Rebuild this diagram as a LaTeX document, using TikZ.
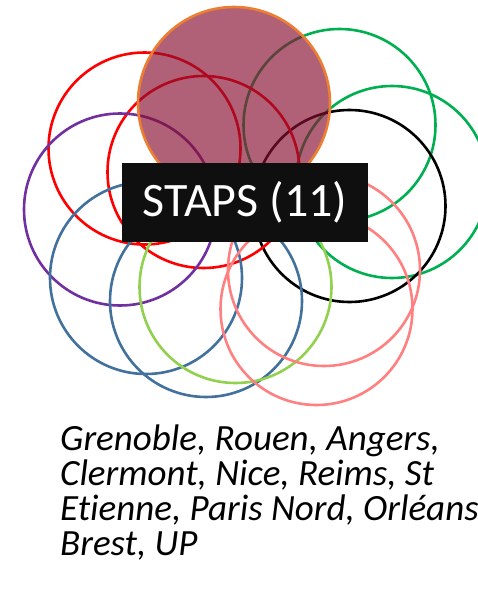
\documentclass[tikz,border=0pt]{standalone}
\usepackage{fontspec}
\setmainfont[Ligatures=NoCommon]{Carlito}
\definecolor{cred}{HTML}{FF0000}
\definecolor{cgreen}{HTML}{00B050}
\definecolor{cpurple}{HTML}{7030A0}
\definecolor{cblue}{HTML}{41719C}
\definecolor{clgreen}{HTML}{92D050}
\definecolor{cpink}{HTML}{FF8080}
\definecolor{corange}{HTML}{ED7D31}
\definecolor{cmauve}{RGB}{136,15,48}
\begin{document}
\begin{tikzpicture}[x=1pt,y=-1pt,
  ring/.style={draw=#1,line width=2.6pt},
  labelbox/.style={fill=black!94,text=white,minimum width=246pt,minimum height=79pt,inner sep=0pt,font=\fontsize{48}{52}\selectfont},
  listline/.style={anchor=base west,inner sep=0pt,font=\fontsize{37}{37}\selectfont\itshape}]
\useasboundingbox (0,0) rectangle (477,592);
\draw[ring=cgreen] (339.5,125) circle[radius=96];
\draw[ring=cgreen] (392,182) circle[radius=96];
\draw[ring=black] (349.5,206) circle[radius=96];
\draw[ring=cred] (144.5,148.5) circle[radius=96];
\draw[ring=cred] (203.5,172) circle[radius=96];
\draw[ring=cpurple] (120,209.5) circle[radius=96];
\draw[ring=cblue] (146,278) circle[radius=96];
\draw[ring=cblue] (206,301) circle[radius=96];
\draw[ring=clgreen] (235.5,287) circle[radius=96];
\draw[ring=cpink] (324,270) circle[radius=96];
\draw[ring=cpink] (316.5,309) circle[radius=96];
\fill[cmauve,fill opacity=0.66] (234,103) circle[radius=96];
\draw[corange,line width=2.6pt] (234,103) circle[radius=96];
\node[labelbox] (staps) at (245,202.5) {STAPS (11)};
\node[listline] (l1) at (60,450) {Grenoble, Rouen, Angers,};
\node[listline] (l2) at (60,485) {Clermont, Nice, Reims, St};
\node[listline] (l3) at (60,520) {Etienne, Paris Nord, Orléans};
\node[listline] (l4) at (60,555) {Brest, UP};
\end{tikzpicture}
\end{document}
